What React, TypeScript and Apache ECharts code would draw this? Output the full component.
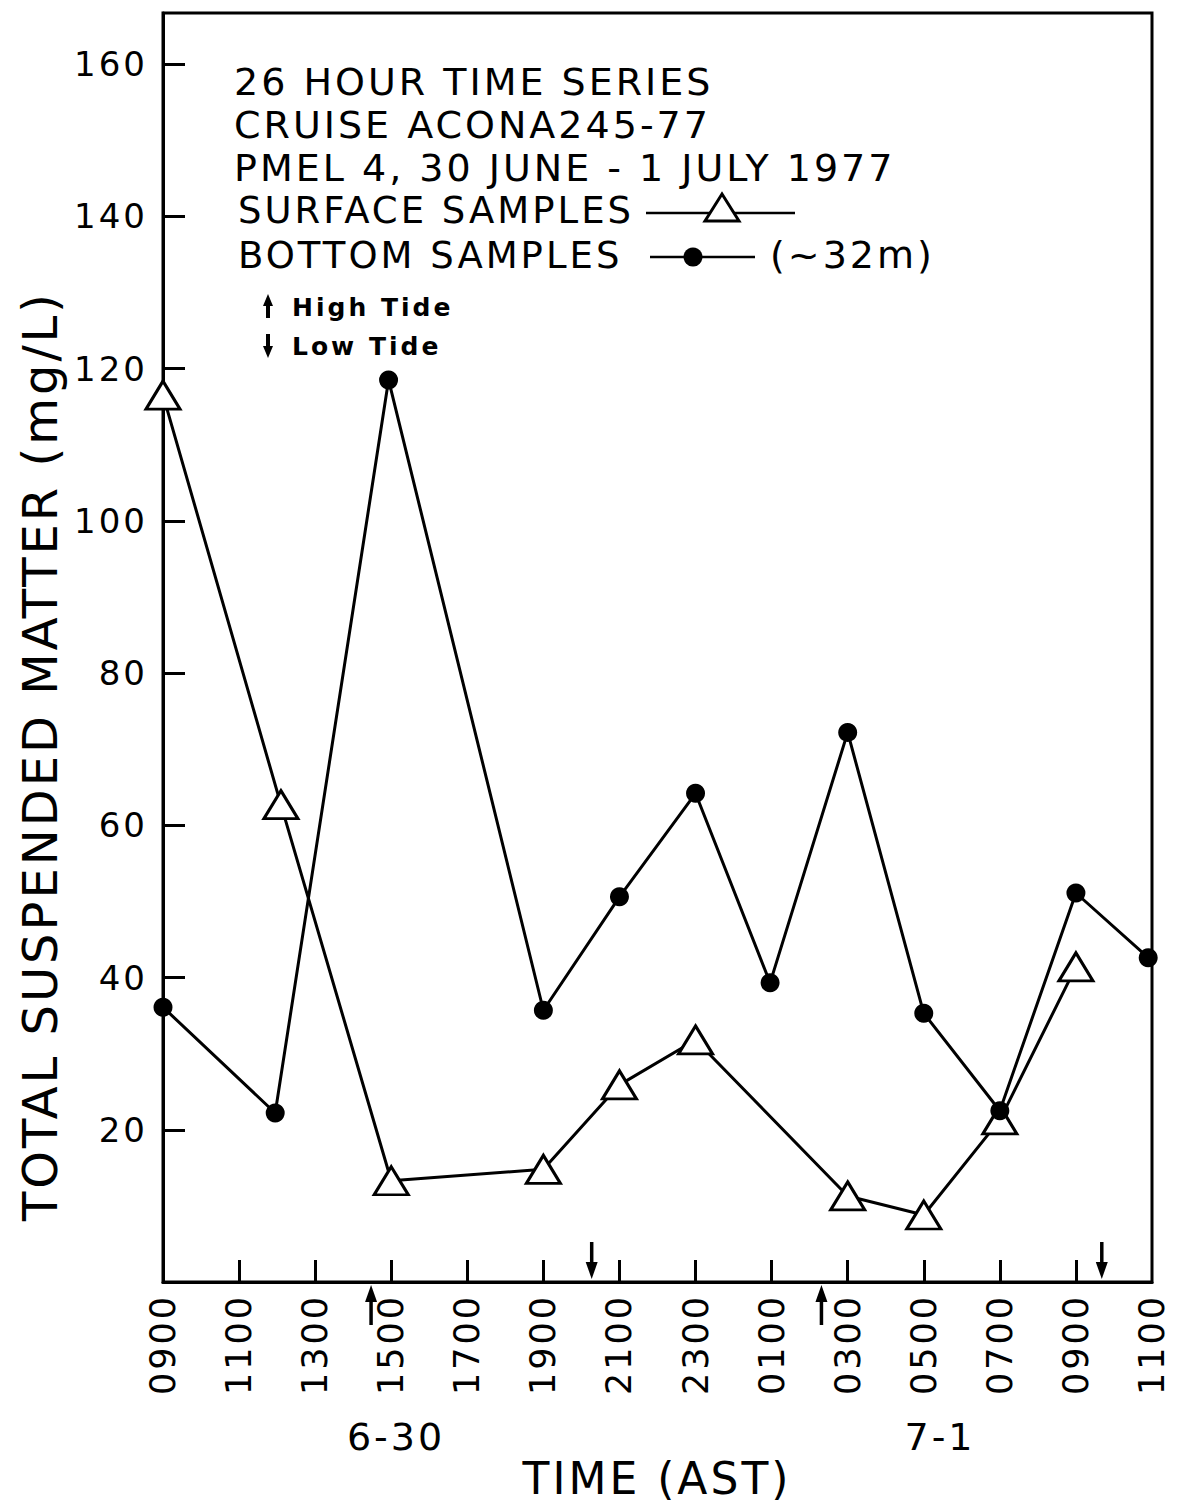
import React, { useEffect, useRef } from 'react';
import * as echarts from 'echarts';

const FONT = 'DejaVu Sans';

// Data (hours since 00:00 on 6-30; 25 = 0100 on 7-1)
const surfaceHours = [9, 12.1, 15, 19, 21, 23, 27, 29, 31, 33];
const surfaceValues = [116.5, 62.7, 13.3, 14.8, 25.9, 31.8, 11.3, 8.8, 21.3, 41.4];
const bottomHours = [9, 11.95, 14.93, 19, 21, 23, 24.96, 27, 29, 31, 33, 34.9];
const bottomValues = [36.1, 22.2, 118.5, 35.7, 50.6, 64.2, 39.3, 72.2, 35.3, 22.5, 51.1, 42.6];
const highTideHours = [14.47, 26.31];
const lowTideHours = [20.27, 33.68];
const xLabelHours = [9, 11, 13, 15, 17, 19, 21, 23, 25, 27, 29, 31, 33, 35];
const xTickHours = [11, 13, 15, 17, 19, 21, 23, 25, 27, 29, 31, 33];
const yTickValues = [20, 40, 60, 80, 100, 120, 140, 160];
const dateLabels = ['6-30', '7-1'];
const titleLines = ['26 HOUR TIME SERIES', 'CRUISE ACONA245-77', 'PMEL 4, 30 JUNE - 1 JULY 1977'];
const surfaceLegend = 'SURFACE SAMPLES';
const bottomLegend = 'BOTTOM SAMPLES';
const bottomDepth = '(~32m)';
const tideLabels = ['High Tide', 'Low Tide'];
const yAxisTitle = 'TOTAL SUSPENDED MATTER (mg/L)';
const xAxisTitle = 'TIME (AST)';

const fmtHour = (h: number) => {
  const hh = Math.round(h) % 24;
  return (hh < 10 ? '0' : '') + hh + '00';
};

export default function App() {
  const ref = useRef<HTMLDivElement>(null);
  useEffect(() => {
    if (!ref.current) return;
    const chart = echarts.init(ref.current, undefined, { renderer: 'svg' });
    const txt = (text: string, x: number, y: number, fontSize: number, extra: any = {}) => ({
      type: 'text',
      x,
      y,
      silent: true,
      ...extra,
      style: {
        text,
        fontSize,
        fontFamily: FONT,
        fill: '#000',
        align: extra.align || 'left',
        verticalAlign: 'middle',
        textAlign: extra.align || 'left',
        textVerticalAlign: 'middle',
        fontWeight: extra.fontWeight || 'normal',
      },
    });
    const graphics: any[] = [];
    titleLines.forEach((t, i) => graphics.push(txt(t, 234, 82 + i * 43, 38)));
    graphics.push(txt(surfaceLegend, 238, 210, 37));
    graphics.push(txt(bottomLegend, 238, 255, 37));
    graphics.push({ type: 'line', silent: true, shape: { x1: 646, y1: 213, x2: 795, y2: 213 }, style: { stroke: '#000', lineWidth: 2.5 } });
    graphics.push({ type: 'polygon', silent: true, z: 10, shape: { points: [[705, 221], [739, 221], [722, 194]] }, style: { fill: '#fff', stroke: '#000', lineWidth: 3 } });
    graphics.push({ type: 'line', silent: true, shape: { x1: 650, y1: 257, x2: 755, y2: 257 }, style: { stroke: '#000', lineWidth: 2.5 } });
    graphics.push({ type: 'circle', silent: true, shape: { cx: 693, cy: 257, r: 9.5 }, style: { fill: '#000' } });
    graphics.push(txt(bottomDepth, 770, 255, 38));
    // tide key
    graphics.push({ type: 'line', silent: true, shape: { x1: 268, y1: 300, x2: 268, y2: 318 }, style: { stroke: '#000', lineWidth: 4 } });
    graphics.push({ type: 'polygon', silent: true, shape: { points: [[263, 306], [273, 306], [268, 294]] }, style: { fill: '#000' } });
    graphics.push({ type: 'line', silent: true, shape: { x1: 268, y1: 334, x2: 268, y2: 352 }, style: { stroke: '#000', lineWidth: 4 } });
    graphics.push({ type: 'polygon', silent: true, shape: { points: [[263, 346], [273, 346], [268, 358]] }, style: { fill: '#000' } });
    graphics.push(txt(tideLabels[0], 292, 307, 25, { fontWeight: 'bold' }));
    graphics.push(txt(tideLabels[1], 292, 346, 25, { fontWeight: 'bold' }));
    // date labels
    graphics.push(txt(dateLabels[0], 396, 1437, 38, { align: 'center' }));
    graphics.push(txt(dateLabels[1], 940, 1437, 38, { align: 'center' }));
    // axis titles
    graphics.push(txt(xAxisTitle, 657, 1478, 44, { align: 'center' }));
    graphics.push(txt(yAxisTitle, 40, 756, 48, { align: 'center', rotation: Math.PI / 2 }));

    const option: any = {
      animation: false,
      backgroundColor: '#fff',
      grid: {
        left: 163,
        right: 25,
        top: 13,
        bottom: 222,
        show: true,
        borderColor: '#000',
        borderWidth: 3,
        outerBoundsMode: 'none',
      },
      xAxis: {
        type: 'value',
        min: 9,
        max: 35,
        splitLine: { show: false },
        axisLine: { lineStyle: { color: '#000', width: 3 } },
        axisTick: { inside: true, length: 22, customValues: xTickHours, lineStyle: { color: '#000', width: 3 } },
        axisLabel: {
          customValues: xLabelHours,
          rotate: 90,
          margin: 12,
          fontSize: 35,
          fontFamily: FONT,
          color: '#000',
          formatter: (v: number) => fmtHour(v),
        },
      },
      yAxis: {
        type: 'value',
        min: 0,
        max: 166.7,
        splitLine: { show: false },
        axisLine: { lineStyle: { color: '#000', width: 3 } },
        axisTick: { inside: true, length: 22, customValues: yTickValues, lineStyle: { color: '#000', width: 3 } },
        axisLabel: {
          customValues: yTickValues,
          margin: 15,
          fontSize: 34,
          fontFamily: FONT,
          color: '#000',
        },
      },
      series: [
        {
          name: 'Surface',
          type: 'line',
          data: surfaceHours.map((h, i) => [h, surfaceValues[i]]),
          symbol: 'triangle',
          symbolSize: [34, 28],
          showAllSymbol: true,
          lineStyle: { color: '#000', width: 3 },
          itemStyle: { color: '#fff', borderColor: '#000', borderWidth: 3 },
          z: 2,
          silent: true,
        },
        {
          name: 'Bottom',
          type: 'line',
          data: bottomHours.map((h, i) => [h, bottomValues[i]]),
          symbol: 'circle',
          symbolSize: 19,
          showAllSymbol: true,
          lineStyle: { color: '#000', width: 3 },
          itemStyle: { color: '#000' },
          z: 3,
          silent: true,
        },
        {
          name: 'Tide',
          type: 'custom',
          clip: false,
          silent: true,
          z: 5,
          encode: { x: 0, y: 1 },
          data: [...highTideHours.map((h) => [h, 0, 1]), ...lowTideHours.map((h) => [h, 0, 0])],
          renderItem: (params: any, api: any) => {
            const p = api.coord([api.value(0), 0]);
            const x = p[0];
            const y = p[1];
            const high = api.value(2) === 1;
            if (high) {
              return {
                type: 'group',
                children: [
                  { type: 'line', shape: { x1: x, y1: y + 14, x2: x, y2: y + 43 }, style: { stroke: '#000', lineWidth: 3.5 } },
                  { type: 'polygon', shape: { points: [[x - 6, y + 20], [x + 6, y + 20], [x, y + 3]] }, style: { fill: '#000' } },
                ],
              };
            }
            return {
              type: 'group',
              children: [
                { type: 'line', shape: { x1: x, y1: y - 40, x2: x, y2: y - 14 }, style: { stroke: '#000', lineWidth: 3.5 } },
                { type: 'polygon', shape: { points: [[x - 6, y - 20], [x + 6, y - 20], [x, y - 3]] }, style: { fill: '#000' } },
              ],
            };
          },
        },
      ],
      graphic: graphics,
    };
    chart.setOption(option);
    return () => chart.dispose();
  }, []);
  return (
    <div
      ref={ref}
      style={{ position: 'fixed', left: 0, top: 0, width: 1177, height: 1504, background: '#fff', letterSpacing: '3px' }}
    />
  );
}
